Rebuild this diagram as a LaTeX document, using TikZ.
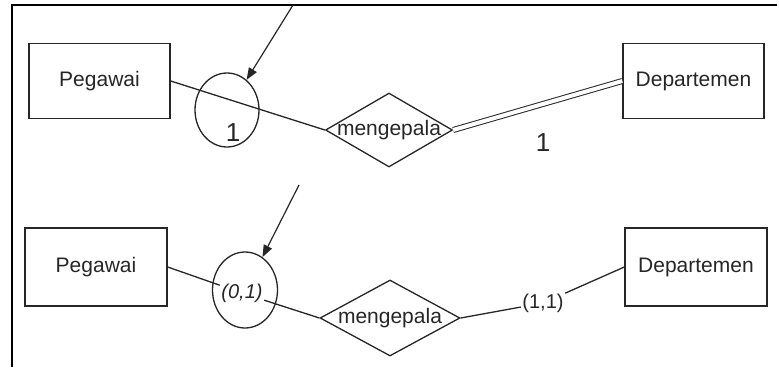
\documentclass[tikz,border=0pt]{standalone}
\usepackage{fontspec}
\setmainfont{Liberation Sans}
\usepackage{tikz}
\usetikzlibrary{shapes.geometric, arrows.meta}
\tikzstyle{arrow} = [line width=1.2pt, -{Triangle[length=12pt, width=9pt]}]
\tikzstyle{entity} = [rectangle, draw, line width=1.4pt, minimum width=141pt, minimum height=75pt, font=\fontsize{21}{25}\selectfont]
\tikzstyle{relation} = [diamond, draw, line width=1.3pt, aspect=1.75, inner sep=-8pt, font=\fontsize{21}{25}\selectfont]
\tikzstyle{ring} = [ellipse, draw, line width=1.3pt, minimum width=64pt, minimum height=74pt]
\tikzstyle{card} = [inner sep=1pt]

\begin{document}
\begin{tikzpicture}[x=1pt, y=-1pt, line width=1.3pt, color=black!85]
\useasboundingbox (0,0) rectangle (779,367);

% outer frame
\draw[line width=2pt, black] (12,367) -- (12,5) -- (777,5);

% top
\node (peg1) [entity] at (99.5,81) {Pegawai};
\node (dep1) [entity] at (693.5,81) {Departemen};
\node (rel1) [relation, minimum width=127pt, minimum height=74pt] at (389,130) {mengepala};
\node (ring1) [ring] at (227,110) {};
\node (one1) [card, font=\fontsize{26}{30}\selectfont] at (233,133) {1};
\node (one2) [card, font=\fontsize{26}{30}\selectfont] at (543,143) {1};
\coordinate (tip1) at (293,5);

\draw (peg1.east) -- (rel1.west);
\draw[double, double distance=4pt, line width=1pt] (rel1.east) -- (dep1.west);
\draw[arrow] (tip1) -- (ring1.57);

% bottom
\node (peg2) [entity, minimum width=142pt, minimum height=78pt] at (96,267) {Pegawai};
\node (dep2) [entity, minimum width=142pt, minimum height=78pt] at (696,267) {Departemen};
\node (rel2) [relation, minimum width=140pt, minimum height=76pt] at (390,318) {mengepala};
\node (ring2) [ring, minimum width=65pt, minimum height=76pt] at (245,290) {};
\node (zo) [card, font=\itshape\fontsize{20}{24}\selectfont] at (242,293) {(0,1)};
\node (oo) [card, font=\fontsize{20}{24}\selectfont] at (543,303) {(1,1)};
\coordinate (tip2) at (299,185);

\draw (peg2.east) -- (zo);
\draw (zo) -- (rel2.west);
\draw (rel2.east) -- (oo);
\draw (oo) -- (dep2.west);
\draw[arrow] (tip2) -- (ring2.62);

\end{tikzpicture}
\end{document}
